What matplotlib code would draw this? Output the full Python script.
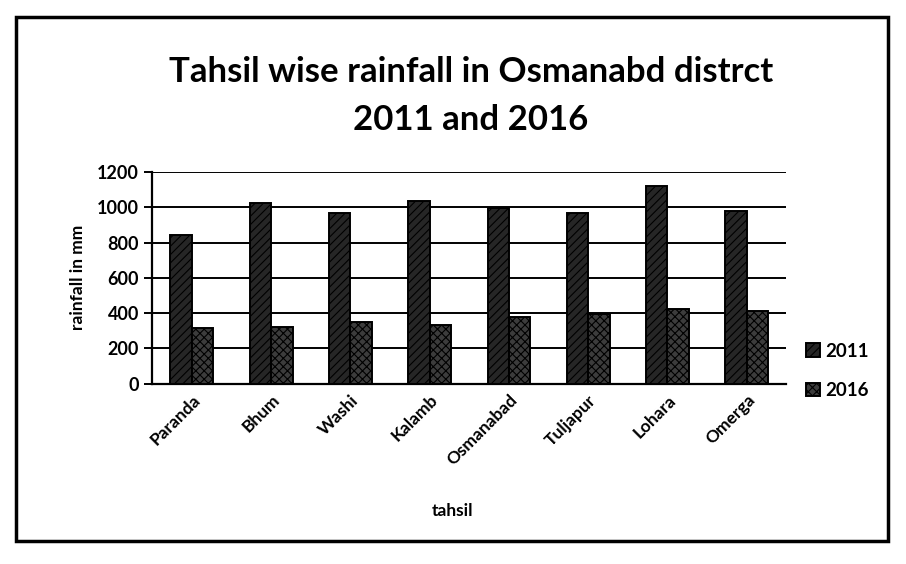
import matplotlib.pyplot as plt
import numpy as np
from matplotlib.patches import Rectangle

tahsils = ["Paranda", "Bhum", "Washi", "Kalamb", "Osmanabad", "Tuljapur", "Lohara", "Omerga"]
rain_2011 = [840, 1025, 970, 1035, 995, 970, 1120, 980]
rain_2016 = [315, 320, 350, 330, 380, 395, 425, 410]
yticks = [0, 200, 400, 600, 800, 1000, 1200]

plt.rcParams["font.family"] = ["Lato", "DejaVu Sans"]
plt.rcParams["hatch.color"] = "#6a6a6a"
plt.rcParams["hatch.linewidth"] = 0.8

fig = plt.figure(figsize=(9.06, 5.64), dpi=100)
ax = fig.add_axes([0.168, 0.32, 0.70, 0.375])

x = np.arange(len(tahsils))
w = 0.27
ax.bar(x - w / 2, rain_2011, w, color="#262626", edgecolor="black",
       linewidth=1.4, hatch="////", label="2011", zorder=3)
ax.bar(x + w / 2, rain_2016, w, color="#3c3c3c", edgecolor="black",
       linewidth=1.4, hatch="xxxx", label="2016", zorder=3)

ax.set_ylim(0, 1200)
ax.set_xlim(-0.5, len(tahsils) - 0.5)
ax.set_yticks(yticks)
ax.yaxis.grid(True, color="black", linewidth=1.4, zorder=0)
ax.tick_params(axis="y", length=6, width=1.4, labelsize=13, direction="out")
ax.tick_params(axis="x", length=0, labelsize=12.5, pad=6)
for t in ax.get_yticklabels():
    t.set_fontweight("bold")
ax.set_xticks(x)
ax.set_xticklabels(tahsils, rotation=45, ha="right", rotation_mode="anchor",
                   fontweight="bold")
for s in ["top", "right"]:
    ax.spines[s].set_visible(False)
ax.spines["left"].set_linewidth(1.6)
ax.spines["bottom"].set_linewidth(1.6)

ax.set_ylabel("rainfall in mm", fontsize=12.5, fontweight="bold", labelpad=8)
fig.text(0.50, 0.085, "tahsil", ha="center", fontsize=12.5, fontweight="bold")

fig.text(0.52, 0.855, "Tahsil wise rainfall in Osmanabd distrct",
         ha="center", fontsize=25, fontweight="bold")
fig.text(0.52, 0.77, "2011 and 2016", ha="center", fontsize=25, fontweight="bold")

ax.legend(loc="center left", bbox_to_anchor=(1.005, 0.06), frameon=False,
          handlelength=0.7, handleheight=0.7, handletextpad=0.3,
          labelspacing=1.2, prop={"weight": "bold", "size": 13.5})

fig.patches.append(Rectangle((0.018, 0.04), 0.962, 0.93, transform=fig.transFigure,
                             fill=False, edgecolor="black", linewidth=2.5))

fig.savefig("out.png", dpi=100, facecolor="white")
